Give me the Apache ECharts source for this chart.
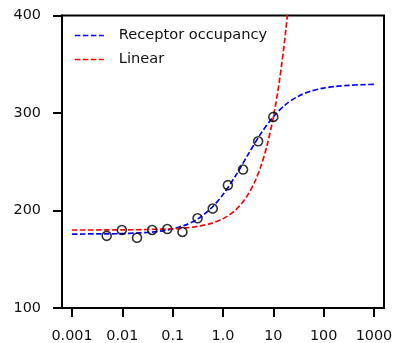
<!DOCTYPE html>
<html>
<head>
<meta charset="utf-8">
<script src="https://cdn.jsdelivr.net/npm/echarts@6/dist/echarts.min.js"></script>
<style>
  html, body { margin: 0; padding: 0; background: #fff; }
  #chart { width: 396px; height: 343px; }
</style>
</head>
<body>
<div id="chart"></div>
<script>
// Measured responses (concentration vs. response)
const doseX = [0.0048828, 0.0097656, 0.0195313, 0.0390625, 0.078125, 0.15625, 0.3125, 0.625, 1.25, 2.5, 5, 10];
const doseY = [174, 180, 172, 180, 181, 178, 192, 202, 226, 242, 271, 296];

// Receptor occupancy fit, sampled every quarter decade
const occX = [0.001, 0.00178, 0.00316, 0.00562, 0.01, 0.0178, 0.0316, 0.0562, 0.1, 0.178, 0.316, 0.562,
              1, 1.78, 3.16, 5.62, 10, 17.8, 31.6, 56.2, 100, 178, 316, 562, 1000];
const occY = [175.8, 175.9, 176.0, 176.1, 176.3, 176.8, 177.5, 178.8, 181.1, 185.0, 191.4, 201.6,
              216.3, 235.6, 257.5, 278.6, 296.1, 308.9, 317.3, 322.5, 325.6, 327.4, 328.4, 329.0, 329.4];

// Linear fit
const linX = [0.001, 0.01, 0.1, 0.178, 0.316, 0.562, 1, 1.33, 1.78, 2.37, 3.16, 4.22, 5.62, 7.5, 10, 13.3, 17.8, 23.7];
const linY = [180.0, 180.1, 181.2, 182.1, 183.7, 186.5, 191.6, 195.4, 200.5, 207.4, 216.5, 228.7, 244.9, 266.6, 295.5, 333.6, 385.6, 453.7];

// Axis ticks
const xTicks = [0.001, 0.01, 0.1, 1, 10, 100, 1000];
const xTickLabels = ['0.001', '0.01', '0.1', '1.0', '10', '100', '1000'];
const yTicks = [100, 200, 300, 400];

const FONT = 'DejaVu Sans';
const DASH = [5.5, 2.5];
const pairs = (xs, ys) => xs.map((x, i) => [x, ys[i]]);

const chart = echarts.init(document.getElementById('chart'), null, { renderer: 'canvas' });
chart.setOption({
  animation: false,
  backgroundColor: '#fff',
  grid: {
    left: 62, right: 12, top: 15.5, bottom: 35,
    show: true, borderColor: '#000', borderWidth: 2, backgroundColor: 'transparent'
  },
  legend: {
    orient: 'vertical',
    left: 69, top: 23,
    itemWidth: 29, itemHeight: 14, itemGap: 9,
    itemStyle: { opacity: 0 },
    lineStyle: { width: 1.7, type: DASH },
    textStyle: { fontFamily: FONT, fontSize: 14.6, color: '#111', padding: [0, 0, 0, 10] },
    data: ['Receptor occupancy', 'Linear']
  },
  xAxis: {
    type: 'log',
    logBase: 10,
    min: Math.pow(10, -3.2),
    max: Math.pow(10, 3.2),
    splitLine: { show: false },
    axisLine: { show: true, lineStyle: { color: '#000', width: 2 } },
    axisTick: { show: true, customValues: xTicks, length: 9, lineStyle: { color: '#000', width: 2 } },
    minorTick: { show: false },
    axisLabel: {
      customValues: xTicks,
      margin: 21,
      fontFamily: FONT, fontSize: 14.4, color: '#111',
      formatter: v => {
        const i = xTicks.findIndex(t => Math.abs(Math.log10(t) - Math.log10(v)) < 1e-6);
        return i >= 0 ? xTickLabels[i] : '';
      }
    }
  },
  yAxis: {
    type: 'value',
    min: 100, max: 400, interval: 100,
    splitLine: { show: false },
    axisLine: { show: true, lineStyle: { color: '#000', width: 2 } },
    axisTick: { show: true, customValues: yTicks, length: 9, lineStyle: { color: '#000', width: 2 } },
    axisLabel: { customValues: yTicks, margin: 21, fontFamily: FONT, fontSize: 14.4, color: '#111' }
  },
  series: [
    {
      name: 'Receptor occupancy',
      type: 'line',
      data: pairs(occX, occY),
      smooth: 0.3,
      symbol: 'none',
      color: '#0000ff',
      lineStyle: { color: '#0000ff', width: 1.7, type: DASH },
      z: 2
    },
    {
      name: 'Linear',
      type: 'line',
      data: pairs(linX, linY),
      smooth: 0.3,
      symbol: 'none',
      clip: true,
      color: '#ff0000',
      lineStyle: { color: '#ff0000', width: 1.7, type: DASH },
      z: 2
    },
    {
      name: 'Data',
      type: 'scatter',
      data: pairs(doseX, doseY),
      symbol: 'circle',
      symbolSize: 9,
      itemStyle: { color: 'none', borderColor: '#000', borderWidth: 1.6 },
      z: 3
    }
  ]
});
</script>
</body>
</html>
